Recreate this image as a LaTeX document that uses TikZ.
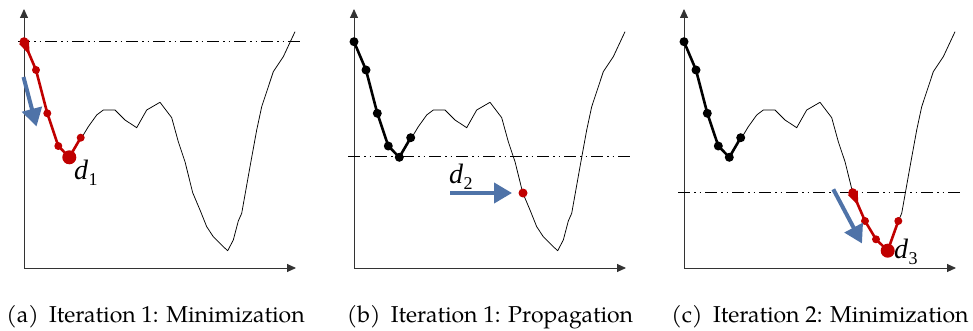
\documentclass[tikz,border=0pt]{standalone}
\usepackage{fontspec}
\setmainfont{Liberation Serif}
\newfontfamily\capfont{texgyrepagella-regular.otf}
\usetikzlibrary{arrows.meta,calc}
\definecolor{myred}{RGB}{192,0,0}
\definecolor{myblue}{RGB}{79,115,168}
\tikzset{
  axis/.style={line width=0.9pt, draw=black!80, -{Triangle[length=9pt,width=8pt]}},
  thin/.style={line width=0.75pt, line join=round},
  redpath/.style={line width=2.6pt, draw=myred, line join=round},
  blackpath/.style={line width=2.6pt, draw=black, line join=round},
  level/.style={line width=0.9pt, dash pattern=on 12pt off 4pt on 1.5pt off 4pt on 1.5pt off 4pt},
  bluearrow/.style={line width=4pt, draw=myblue, -{Triangle[length=18pt,width=20pt]}},
  caption/.style={font=\capfont\fontsize{23}{26}\selectfont, anchor=base, inner sep=0pt},
  dlabel/.style={font=\fontsize{28}{30}\selectfont\itshape, anchor=base west, inner sep=0pt},
}
\newcommand{\dsub}[1]{d\kern0.5pt\raisebox{-6pt}{\upshape\fontsize{18}{18}\selectfont #1}}
\begin{document}
\begin{tikzpicture}[x=1pt,y=-1pt]
\useasboundingbox (0,0) rectangle (973,331);

% ---------------- Panel (a)
\begin{scope}
\coordinate (o1) at (24,268);
\coordinate (yt1) at (24,9);
\coordinate (xt1) at (296,268);
\draw[axis] (o1) -- (yt1);
\draw[axis] (o1) -- (xt1);
\coordinate (la1) at (18,41.7);
\coordinate (lb1) at (300,41.7);
\draw[level] (la1) -- (lb1);
\draw[thin] (80.7,137.7) -- (83.3,135) -- (88.3,126.7) -- (96.7,115) -- (103.3,110) -- (115,110) -- (125,120) -- (136.7,127.7) -- (146.7,110) -- (160,102.3) -- (171.7,117.7) -- (178.3,141.7) -- (185,161.7) -- (192.7,192.7) -- (200,210) -- (206.7,226.7) -- (213.3,236.7) -- (223.3,246.7) -- (227.7,250.7) -- (233.3,240) -- (238.3,221) -- (241.7,213.3) -- (250,166.7) -- (256.7,130) -- (261.7,106.7) -- (273.3,71.7) -- (283.3,56.7) -- (295,31.7);
\coordinate (a0) at (24,41.7);
\coordinate (a1) at (36,70);
\coordinate (a2) at (47.3,113.3);
\coordinate (a3) at (58.3,146);
\coordinate (a4) at (69.3,157.3);
\coordinate (a5) at (80.7,137.7);
\draw[redpath] (a0) -- (a1) -- (a2) -- (a3) -- (a4) -- (a5);
\fill[myred] (a0) circle (4.5pt) (a1) circle (4pt) (a2) circle (4pt) (a3) circle (4pt) (a5) circle (4pt) (a4) circle (7pt);
\fill[myred] ($(a0)!5.5pt!90:(a1)$) -- ($(a0)!14pt!(a1)$) -- ($(a0)!5.5pt!-90:(a1)$) -- cycle;
\coordinate (ba1) at (23.5,77);
\coordinate (bb1) at (36.5,126.5);
\draw[bluearrow] (ba1) -- (bb1);
\node[dlabel] (d1) at (74,179) {\dsub{1}};
\end{scope}

% ---------------- Panel (b)
\begin{scope}[xshift=330pt]
\coordinate (o2) at (24,268);
\coordinate (yt2) at (24,9);
\coordinate (xt2) at (296,268);
\draw[axis] (o2) -- (yt2);
\draw[axis] (o2) -- (xt2);
\coordinate (la2) at (18,156.7);
\coordinate (lb2) at (300,156.7);
\draw[level] (la2) -- (lb2);
\draw[thin] (80.7,137.7) -- (83.3,135) -- (88.3,126.7) -- (96.7,115) -- (103.3,110) -- (115,110) -- (125,120) -- (136.7,127.7) -- (146.7,110) -- (160,102.3) -- (171.7,117.7) -- (178.3,141.7) -- (185,161.7) -- (192.7,192.7) -- (200,210) -- (206.7,226.7) -- (213.3,236.7) -- (223.3,246.7) -- (227.7,250.7) -- (233.3,240) -- (238.3,221) -- (241.7,213.3) -- (250,166.7) -- (256.7,130) -- (261.7,106.7) -- (273.3,71.7) -- (283.3,56.7) -- (295,31.7);
\coordinate (b0) at (24,41.7);
\coordinate (b1) at (36,70);
\coordinate (b2) at (47.3,113.3);
\coordinate (b3) at (58.3,146);
\coordinate (b4) at (69.3,157.3);
\coordinate (b5) at (80.7,137.7);
\draw[blackpath] (b0) -- (b1) -- (b2) -- (b3) -- (b4) -- (b5);
\fill[black] (b0) circle (4.5pt) (b1) circle (4.5pt) (b2) circle (4.5pt) (b3) circle (4.5pt) (b4) circle (4.5pt) (b5) circle (4.5pt);
\coordinate (rd2) at (193,193);
\fill[myred] (rd2) circle (4.5pt);
\coordinate (ba2) at (120,193);
\coordinate (bb2) at (182,193);
\draw[bluearrow] (ba2) -- (bb2);
\node[dlabel] (d2) at (119,183) {\dsub{2}};
\end{scope}

% ---------------- Panel (c)
\begin{scope}[xshift=660pt]
\coordinate (o3) at (24,268);
\coordinate (yt3) at (24,9);
\coordinate (xt3) at (296,268);
\draw[axis] (o3) -- (yt3);
\draw[axis] (o3) -- (xt3);
\coordinate (la3) at (18,192.7);
\coordinate (lb3) at (300,192.7);
\draw[level] (la3) -- (lb3);
\draw[thin] (80.7,137.7) -- (83.3,135) -- (88.3,126.7) -- (96.7,115) -- (103.3,110) -- (115,110) -- (125,120) -- (136.7,127.7) -- (146.7,110) -- (160,102.3) -- (171.7,117.7) -- (178.3,141.7) -- (185,161.7) -- (192.7,192.7);
\draw[thin] (238.3,221) -- (241.7,213.3) -- (250,166.7) -- (256.7,130) -- (261.7,106.7) -- (273.3,71.7) -- (283.3,56.7) -- (295,31.7);
\coordinate (c0) at (24,41.7);
\coordinate (c1) at (36,70);
\coordinate (c2) at (47.3,113.3);
\coordinate (c3) at (58.3,146);
\coordinate (c4) at (69.3,157.3);
\coordinate (c5) at (80.7,137.7);
\draw[blackpath] (c0) -- (c1) -- (c2) -- (c3) -- (c4) -- (c5);
\fill[black] (c0) circle (4.5pt) (c1) circle (4.5pt) (c2) circle (4.5pt) (c3) circle (4.5pt) (c4) circle (4.5pt) (c5) circle (4.5pt);
\coordinate (r0) at (192.7,192.7);
\coordinate (r1) at (205,221);
\coordinate (r2) at (216,239.3);
\coordinate (r3) at (227.7,250.7);
\coordinate (r4) at (238.3,221);
\draw[redpath] (r0) -- (r1) -- (r2) -- (r3) -- (r4);
\fill[myred] (r0) circle (4.5pt) (r1) circle (4pt) (r2) circle (4pt) (r4) circle (4pt) (r3) circle (7pt);
\fill[myred] ($(r0)!5.5pt!90:(r1)$) -- ($(r0)!14pt!(r1)$) -- ($(r0)!5.5pt!-90:(r1)$) -- cycle;
\coordinate (ba3) at (173.3,189.3);
\coordinate (bb3) at (202,243.5);
\draw[bluearrow] (ba3) -- (bb3);
\node[dlabel] (d3) at (234,258) {\dsub{3}};
\end{scope}

% ---------------- Captions
\node[caption] (capa) at (155.5,322) {(a)\hspace{0.45em}Iteration 1: Minimization};
\node[caption] (capb) at (490,322) {(b)\hspace{0.45em}Iteration 1: Propagation};
\node[caption] (capc) at (820,322) {(c)\hspace{0.45em}Iteration 2: Minimization};
\end{tikzpicture}
\end{document}
